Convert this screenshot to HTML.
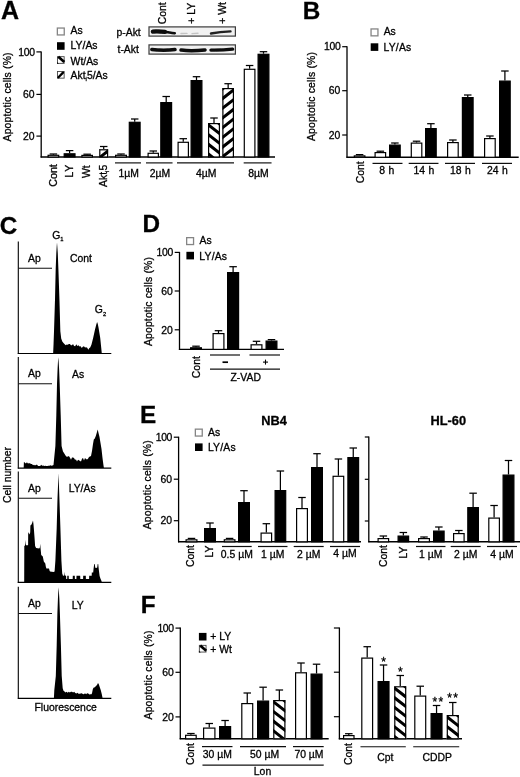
<!DOCTYPE html>
<html lang="en">
<head>
<meta charset="utf-8">
<title>Figure</title>
<style>
html,body{margin:0;padding:0;background:#fff;}
body{width:520px;height:777px;overflow:hidden;}
svg{display:block;}
svg text{font-family:"Liberation Sans",Arial,Helvetica,sans-serif;fill:#050505;stroke:#050505;stroke-width:0.3px;}
</style>
</head>
<body>
<svg width="520" height="777" viewBox="0 0 520 777">
<defs>
<filter id="bl" x="-20%" y="-100%" width="140%" height="300%"><feGaussianBlur stdDeviation="0.7"/></filter>
<filter id="soft"><feGaussianBlur stdDeviation="0.35"/></filter>
</defs>
<rect width="520" height="777" fill="#fff"/>
<g filter="url(#soft)">
<text x="1" y="19.2" font-size="25" font-weight="bold">A</text>
<line x1="41.2" y1="51.4" x2="41.2" y2="157.5" stroke="#000" stroke-width="1.3"/>
<line x1="36.4" y1="51.9" x2="41.2" y2="51.9" stroke="#000" stroke-width="1.2"/>
<text x="34.6" y="55.6" font-size="10.4" text-anchor="end" letter-spacing="-0.35">100</text>
<line x1="36.4" y1="94.4" x2="41.2" y2="94.4" stroke="#000" stroke-width="1.2"/>
<text x="34.6" y="98.1" font-size="10.4" text-anchor="end">60</text>
<line x1="36.4" y1="136.1" x2="41.2" y2="136.1" stroke="#000" stroke-width="1.2"/>
<text x="34.6" y="139.8" font-size="10.4" text-anchor="end">20</text>
<line x1="40.6" y1="157" x2="275" y2="157" stroke="#000" stroke-width="1.4"/>
<text x="10.8" y="96.9" font-size="10.4" text-anchor="middle" transform="rotate(-90 10.8 96.9)" letter-spacing="0.16">Apoptotic cells (%)</text>
<rect x="57.35" y="28.05" width="6.9" height="6.9" fill="#fff" stroke="#858585" stroke-width="1.3"/>
<text x="70.6" y="34" font-size="10.4">As</text>
<rect x="57" y="42.2" width="7.6" height="7.6" fill="#000"/>
<text x="70.6" y="49.3" font-size="10.4">LY/As</text>
<rect x="57.45" y="56.65" width="6.7" height="6.7" fill="#fff" stroke="#444" stroke-width="0.9"/>
<line x1="58.3" y1="56.7" x2="64.3" y2="62" stroke="#000" stroke-width="2.7"/>
<polygon points="57,63.8 57,62 58.8,63.8" fill="#000"/>
<text x="70.6" y="64.5" font-size="10.4">Wt/As</text>
<rect x="57.45" y="71.45" width="6.7" height="6.7" fill="#fff" stroke="#444" stroke-width="0.9"/>
<line x1="58.5" y1="77.3" x2="63" y2="72.6" stroke="#000" stroke-width="2.3" stroke-linecap="round"/>
<text x="70.6" y="79" font-size="10.4">Akt<tspan font-size="6" dy="2.2">i</tspan><tspan dy="-2.2">5/As</tspan></text>
<line x1="53.4" y1="154" x2="53.4" y2="154.7" stroke="#000" stroke-width="1.25"/>
<line x1="49.65" y1="154" x2="57.15" y2="154" stroke="#000" stroke-width="1.25"/>
<rect x="48.1" y="155.3" width="10.6" height="1.7" fill="#fff" stroke="#000" stroke-width="1.2"/>
<line x1="69.6" y1="150.6" x2="69.6" y2="153.2" stroke="#000" stroke-width="1.25"/>
<line x1="65.85" y1="150.6" x2="73.35" y2="150.6" stroke="#000" stroke-width="1.25"/>
<rect x="64.2" y="153.8" width="10.8" height="3.2" fill="#000" stroke="#000" stroke-width="1.2"/>
<line x1="87.15" y1="154.2" x2="87.15" y2="154.8" stroke="#000" stroke-width="1.25"/>
<line x1="83.4" y1="154.2" x2="90.9" y2="154.2" stroke="#000" stroke-width="1.25"/>
<rect x="81.9" y="155.4" width="10.5" height="1.6" fill="#fff" stroke="#000" stroke-width="1.2"/>
<line x1="103.7" y1="146.5" x2="103.7" y2="149.2" stroke="#000" stroke-width="1.25"/>
<line x1="99.95" y1="146.5" x2="107.45" y2="146.5" stroke="#000" stroke-width="1.25"/>
<clipPath id="c1"><rect x="99.2" y="149.2" width="9" height="7.8"/></clipPath>
<rect x="99.2" y="149.2" width="9" height="7.8" fill="#fff"/>
<path d="M108.2 129.5 L99.2 136.52 L99.2 140.32 L108.2 133.3ZM108.2 139.2 L99.2 146.22 L99.2 150.02 L108.2 143ZM108.2 148.9 L99.2 155.92 L99.2 159.72 L108.2 152.7ZM108.2 158.6 L99.2 165.62 L99.2 169.42 L108.2 162.4Z" fill="#000" clip-path="url(#c1)"/>
<rect x="99.8" y="149.8" width="7.8" height="7.2" fill="none" stroke="#000" stroke-width="1.2"/>
<line x1="121" y1="154" x2="121" y2="154.7" stroke="#000" stroke-width="1.25"/>
<line x1="117.25" y1="154" x2="124.75" y2="154" stroke="#000" stroke-width="1.25"/>
<rect x="115.6" y="155.3" width="10.8" height="1.7" fill="#fff" stroke="#000" stroke-width="1.2"/>
<line x1="134.7" y1="119" x2="134.7" y2="121.7" stroke="#000" stroke-width="1.25"/>
<line x1="130.95" y1="119" x2="138.45" y2="119" stroke="#000" stroke-width="1.25"/>
<rect x="129.3" y="122.3" width="10.8" height="34.7" fill="#000" stroke="#000" stroke-width="1.2"/>
<line x1="153.25" y1="151" x2="153.25" y2="152.7" stroke="#000" stroke-width="1.25"/>
<line x1="149.5" y1="151" x2="157" y2="151" stroke="#000" stroke-width="1.25"/>
<rect x="148.1" y="153.3" width="10.3" height="3.7" fill="#fff" stroke="#000" stroke-width="1.2"/>
<line x1="166.2" y1="96.5" x2="166.2" y2="102" stroke="#000" stroke-width="1.25"/>
<line x1="162.45" y1="96.5" x2="169.95" y2="96.5" stroke="#000" stroke-width="1.25"/>
<rect x="160.8" y="102.6" width="10.8" height="54.4" fill="#000" stroke="#000" stroke-width="1.2"/>
<line x1="183.25" y1="138.7" x2="183.25" y2="141.7" stroke="#000" stroke-width="1.25"/>
<line x1="179.5" y1="138.7" x2="187" y2="138.7" stroke="#000" stroke-width="1.25"/>
<rect x="178.1" y="142.3" width="10.3" height="14.7" fill="#fff" stroke="#000" stroke-width="1.2"/>
<line x1="196.5" y1="76.7" x2="196.5" y2="80" stroke="#000" stroke-width="1.25"/>
<line x1="192.75" y1="76.7" x2="200.25" y2="76.7" stroke="#000" stroke-width="1.25"/>
<rect x="191.1" y="80.6" width="10.8" height="76.4" fill="#000" stroke="#000" stroke-width="1.2"/>
<line x1="214" y1="118" x2="214" y2="123" stroke="#000" stroke-width="1.25"/>
<line x1="210.25" y1="118" x2="217.75" y2="118" stroke="#000" stroke-width="1.25"/>
<clipPath id="c2"><rect x="208" y="123" width="12" height="34"/></clipPath>
<rect x="208" y="123" width="12" height="34" fill="#fff"/>
<path d="M208 103.3 L220 112.66 L220 116.46 L208 107.1ZM208 113 L220 122.36 L220 126.16 L208 116.8ZM208 122.7 L220 132.06 L220 135.86 L208 126.5ZM208 132.4 L220 141.76 L220 145.56 L208 136.2ZM208 142.1 L220 151.46 L220 155.26 L208 145.9ZM208 151.8 L220 161.16 L220 164.96 L208 155.6Z" fill="#000" clip-path="url(#c2)"/>
<rect x="208.6" y="123.6" width="10.8" height="33.4" fill="none" stroke="#000" stroke-width="1.2"/>
<line x1="228.15" y1="83.7" x2="228.15" y2="88" stroke="#000" stroke-width="1.25"/>
<line x1="224.4" y1="83.7" x2="231.9" y2="83.7" stroke="#000" stroke-width="1.25"/>
<clipPath id="c3"><rect x="222.3" y="88" width="11.7" height="69"/></clipPath>
<rect x="222.3" y="88" width="11.7" height="69" fill="#fff"/>
<path d="M234 68.3 L222.3 77.43 L222.3 81.23 L234 72.1ZM234 78 L222.3 87.13 L222.3 90.93 L234 81.8ZM234 87.7 L222.3 96.83 L222.3 100.63 L234 91.5ZM234 97.4 L222.3 106.53 L222.3 110.33 L234 101.2ZM234 107.1 L222.3 116.23 L222.3 120.03 L234 110.9ZM234 116.8 L222.3 125.93 L222.3 129.73 L234 120.6ZM234 126.5 L222.3 135.63 L222.3 139.43 L234 130.3ZM234 136.2 L222.3 145.33 L222.3 149.13 L234 140ZM234 145.9 L222.3 155.03 L222.3 158.83 L234 149.7ZM234 155.6 L222.3 164.73 L222.3 168.53 L234 159.4Z" fill="#000" clip-path="url(#c3)"/>
<rect x="222.9" y="88.6" width="10.5" height="68.4" fill="none" stroke="#000" stroke-width="1.2"/>
<line x1="249.6" y1="65.5" x2="249.6" y2="68.7" stroke="#000" stroke-width="1.25"/>
<line x1="245.85" y1="65.5" x2="253.35" y2="65.5" stroke="#000" stroke-width="1.25"/>
<rect x="244.3" y="69.3" width="10.6" height="87.7" fill="#fff" stroke="#000" stroke-width="1.2"/>
<line x1="263.5" y1="51.7" x2="263.5" y2="53.7" stroke="#000" stroke-width="1.25"/>
<line x1="259.75" y1="51.7" x2="267.25" y2="51.7" stroke="#000" stroke-width="1.25"/>
<rect x="258.1" y="54.3" width="10.8" height="102.7" fill="#000" stroke="#000" stroke-width="1.2"/>
<line x1="115" y1="162.9" x2="141" y2="162.9" stroke="#111" stroke-width="1.2"/>
<text x="128.8" y="176.8" font-size="10.4" text-anchor="middle">1µM</text>
<line x1="146" y1="162.9" x2="172.5" y2="162.9" stroke="#111" stroke-width="1.2"/>
<text x="160.05" y="176.8" font-size="10.4" text-anchor="middle">2µM</text>
<line x1="177" y1="162.9" x2="234" y2="162.9" stroke="#111" stroke-width="1.2"/>
<text x="206.3" y="176.8" font-size="10.4" text-anchor="middle">4µM</text>
<line x1="243.7" y1="162.9" x2="271.5" y2="162.9" stroke="#111" stroke-width="1.2"/>
<text x="258.4" y="176.8" font-size="10.4" text-anchor="middle">8µM</text>
<text x="57.3" y="164.2" font-size="10.7" text-anchor="end" transform="rotate(-90 57.3 164.2)">Cont</text>
<text x="73" y="164.2" font-size="10.4" text-anchor="end" transform="rotate(-90 73 164.2)" letter-spacing="0.7">LY</text>
<text x="90.5" y="165.4" font-size="10.4" text-anchor="end" transform="rotate(-90 90.5 165.4)">Wt</text>
<text x="106.8" y="164.8" font-size="10.4" text-anchor="end" transform="rotate(-90 106.8 164.8)">Akt<tspan font-size="6" dy="2.2">i</tspan><tspan dy="-2.2">5</tspan></text>
<text x="116.5" y="35.5" font-size="10.4">p-Akt</text>
<text x="117.5" y="53.1" font-size="10.4">t-Akt</text>
<rect x="149" y="26.9" width="86.4" height="9.2" fill="#f1f1f1" stroke="#3a3a3a" stroke-width="1.2"/>
<rect x="149" y="44.9" width="86.4" height="9.2" fill="#f1f1f1" stroke="#3a3a3a" stroke-width="1.2"/>
<g filter="url(#bl)">
<path d="M152.8 31.6 Q158 31.2 165 31.9" stroke="#0a0a0a" stroke-width="4.2" fill="none" stroke-linecap="round"/>
<path d="M153 31.8 Q163 31.4 168 32.2 T174.8 33.2" stroke="#0a0a0a" stroke-width="2.6" fill="none" stroke-linecap="round"/>
<path d="M181 33.5 L187 33.4 M192 33.6 L198 33.2" stroke="#c4c4c4" stroke-width="1.4" fill="none" stroke-linecap="round"/>
<path d="M211 33.5 Q220 32 230.5 31.4" stroke="#222" stroke-width="2.4" fill="none" stroke-linecap="round"/>
<path d="M151.8 49.5 Q163 50.9 175 49.6" stroke="#0a0a0a" stroke-width="3.5" fill="none" stroke-linecap="round"/>
<path d="M181 50.1 Q192 51.3 205 49.9" stroke="#0a0a0a" stroke-width="3.5" fill="none" stroke-linecap="round"/>
<path d="M211 50.1 Q222 50.3 232.6 49.1" stroke="#0a0a0a" stroke-width="3.4" fill="none" stroke-linecap="round"/>
</g>
<text x="166.2" y="24.3" font-size="10.4" transform="rotate(-90 166.2 24.3)">Cont</text>
<text x="194.7" y="23.8" font-size="10.4" transform="rotate(-90 194.7 23.8)">+ LY</text>
<text x="226.2" y="23.8" font-size="10.4" transform="rotate(-90 226.2 23.8)">+ Wt</text>
<text x="302.8" y="19.3" font-size="24.3" font-weight="bold">B</text>
<line x1="347" y1="46.2" x2="347" y2="157.8" stroke="#000" stroke-width="1.3"/>
<line x1="342.2" y1="46.7" x2="347" y2="46.7" stroke="#000" stroke-width="1.2"/>
<text x="340.4" y="50.4" font-size="10.4" text-anchor="end" letter-spacing="-0.35">100</text>
<line x1="342.2" y1="90.7" x2="347" y2="90.7" stroke="#000" stroke-width="1.2"/>
<text x="340.4" y="94.4" font-size="10.4" text-anchor="end">60</text>
<line x1="342.2" y1="135" x2="347" y2="135" stroke="#000" stroke-width="1.2"/>
<text x="340.4" y="138.7" font-size="10.4" text-anchor="end">20</text>
<line x1="346.4" y1="157.3" x2="518.7" y2="157.3" stroke="#000" stroke-width="1.4"/>
<text x="314.8" y="96.5" font-size="10.4" text-anchor="middle" transform="rotate(-90 314.8 96.5)" letter-spacing="0.16">Apoptotic cells (%)</text>
<rect x="371.05" y="28.95" width="6.9" height="6.9" fill="#fff" stroke="#858585" stroke-width="1.3"/>
<text x="383.7" y="35.4" font-size="10.4">As</text>
<rect x="370.7" y="43.3" width="7.6" height="7.6" fill="#000"/>
<text x="383.5" y="51" font-size="10.4" letter-spacing="0.2">LY/As</text>
<line x1="359.6" y1="154.6" x2="359.6" y2="155.3" stroke="#000" stroke-width="1.25"/>
<line x1="355.85" y1="154.6" x2="363.35" y2="154.6" stroke="#000" stroke-width="1.25"/>
<rect x="354.3" y="155.9" width="10.6" height="1.4" fill="#fff" stroke="#000" stroke-width="1.2"/>
<line x1="380.35" y1="151.2" x2="380.35" y2="152" stroke="#000" stroke-width="1.25"/>
<line x1="376.6" y1="151.2" x2="384.1" y2="151.2" stroke="#000" stroke-width="1.25"/>
<rect x="375.1" y="152.6" width="10.5" height="4.7" fill="#fff" stroke="#000" stroke-width="1.2"/>
<line x1="394.9" y1="143" x2="394.9" y2="144.5" stroke="#000" stroke-width="1.25"/>
<line x1="391.15" y1="143" x2="398.65" y2="143" stroke="#000" stroke-width="1.25"/>
<rect x="389.6" y="145.1" width="10.6" height="12.2" fill="#000" stroke="#000" stroke-width="1.2"/>
<line x1="416.55" y1="141.2" x2="416.55" y2="142.5" stroke="#000" stroke-width="1.25"/>
<line x1="412.8" y1="141.2" x2="420.3" y2="141.2" stroke="#000" stroke-width="1.25"/>
<rect x="411.3" y="143.1" width="10.5" height="14.2" fill="#fff" stroke="#000" stroke-width="1.2"/>
<line x1="430.9" y1="123.7" x2="430.9" y2="128" stroke="#000" stroke-width="1.25"/>
<line x1="427.15" y1="123.7" x2="434.65" y2="123.7" stroke="#000" stroke-width="1.25"/>
<rect x="425.6" y="128.6" width="10.6" height="28.7" fill="#000" stroke="#000" stroke-width="1.2"/>
<line x1="452.9" y1="140" x2="452.9" y2="142" stroke="#000" stroke-width="1.25"/>
<line x1="449.15" y1="140" x2="456.65" y2="140" stroke="#000" stroke-width="1.25"/>
<rect x="447.6" y="142.6" width="10.6" height="14.7" fill="#fff" stroke="#000" stroke-width="1.2"/>
<line x1="467.75" y1="95" x2="467.75" y2="97" stroke="#000" stroke-width="1.25"/>
<line x1="464" y1="95" x2="471.5" y2="95" stroke="#000" stroke-width="1.25"/>
<rect x="462.4" y="97.6" width="10.7" height="59.7" fill="#000" stroke="#000" stroke-width="1.2"/>
<line x1="489.9" y1="136" x2="489.9" y2="138" stroke="#000" stroke-width="1.25"/>
<line x1="486.15" y1="136" x2="493.65" y2="136" stroke="#000" stroke-width="1.25"/>
<rect x="484.6" y="138.6" width="10.6" height="18.7" fill="#fff" stroke="#000" stroke-width="1.2"/>
<line x1="504.9" y1="71" x2="504.9" y2="80.5" stroke="#000" stroke-width="1.25"/>
<line x1="501.15" y1="71" x2="508.65" y2="71" stroke="#000" stroke-width="1.25"/>
<rect x="499.6" y="81.1" width="10.6" height="76.2" fill="#000" stroke="#000" stroke-width="1.2"/>
<line x1="372.5" y1="163.4" x2="402.5" y2="163.4" stroke="#111" stroke-width="1.2"/>
<text x="386.8" y="173.7" font-size="10.4" text-anchor="middle" word-spacing="0.6">8 h</text>
<line x1="408.7" y1="163.4" x2="438.5" y2="163.4" stroke="#111" stroke-width="1.2"/>
<text x="424" y="173.7" font-size="10.4" text-anchor="middle" word-spacing="0.6">14 h</text>
<line x1="445" y1="163.4" x2="475" y2="163.4" stroke="#111" stroke-width="1.2"/>
<text x="460.4" y="173.7" font-size="10.4" text-anchor="middle" word-spacing="0.6">18 h</text>
<line x1="482" y1="163.4" x2="512" y2="163.4" stroke="#111" stroke-width="1.2"/>
<text x="497.4" y="173.7" font-size="10.4" text-anchor="middle" word-spacing="0.6">24 h</text>
<text x="364.5" y="161.3" font-size="10.4" text-anchor="end" transform="rotate(-90 364.5 161.3)">Cont</text>
<text x="-0.3" y="234.3" font-size="24.3" font-weight="bold">C</text>
<text x="11.2" y="475" font-size="10.4" text-anchor="middle" transform="rotate(-90 11.2 475)">Cell number</text>
<text x="65.7" y="710.5" font-size="10.4" text-anchor="middle">Fluorescence</text>
<line x1="18.3" y1="241.5" x2="18.3" y2="354" stroke="#000" stroke-width="1.1"/>
<line x1="17.8" y1="353.5" x2="111.3" y2="353.5" stroke="#000" stroke-width="1.2"/>
<line x1="18.3" y1="268.2" x2="52" y2="268.2" stroke="#111" stroke-width="1.1"/>
<text x="28" y="261.7" font-size="10.4">Ap</text>
<text x="70" y="262.3" font-size="10.4">Cont</text>
<path d="M53.13 353.5 L53.13 353.5 L53.57 343.51 L54.01 331.3 L54.98 300.22 L55.68 269.14 L56.3 253.6 L56.74 245.83 L57 242.5 L57.26 245.83 L57.79 253.6 L58.41 269.14 L59.46 300.22 L60.34 331.3 L61.2 338.5 L62.3 341.5 L63.5 343 L64.7 344.3 L65.7 345.33 L66.75 344.48 L67.8 344.78 L68.85 344.1 L69.9 343.93 L70.95 345.16 L72 345.17 L73 343.89 L74.09 345.88 L75.19 346.2 L76.28 344.17 L77.37 346 L78.47 345.16 L79.56 346.49 L80.65 346.26 L81.75 347.97 L82.84 346.78 L83.93 346.33 L85.03 347.62 L86.12 347.22 L87.21 347.68 L88.31 349.75 L89.4 347.93 L90.2 347.5 L91.5 344.5 L93.2 337.8 L95 329.5 L96.3 324.5 L97.1 322.1 L97.8 324 L98.5 327.5 L100.2 337.8 L101 345.5 L101.8 353.5 L101.8 353.5 Z" fill="#000"/>
<text x="52.2" y="238.5" font-size="10.4">G<tspan font-size="5.8" dy="2.3">1</tspan></text>
<text x="94.8" y="313.4" font-size="10.4">G<tspan font-size="5.8" dy="2.3">2</tspan></text>
<line x1="18.3" y1="357" x2="18.3" y2="468.6" stroke="#000" stroke-width="1.1"/>
<line x1="17.8" y1="468.1" x2="111.3" y2="468.1" stroke="#000" stroke-width="1.2"/>
<line x1="18.3" y1="383.7" x2="52" y2="383.7" stroke="#111" stroke-width="1.1"/>
<text x="28" y="377.2" font-size="10.4">Ap</text>
<text x="72" y="377.8" font-size="10.4">As</text>
<path d="M23.7 468.1 L23.7 468.1 L23.9 461.72 L24.91 462.65 L25.92 463.55 L26.93 462.24 L27.94 463.38 L28.96 463.24 L29.97 463.28 L30.98 463.96 L31.99 463.9 L33 465.31 L34 464.82 L35.03 465.43 L36.06 464.69 L37.08 464.83 L38.11 466.12 L39.14 466.1 L40.17 466.02 L41.19 464.87 L42.22 465.76 L43.25 465.5 L44.28 466.06 L45.31 465.78 L46.33 466.02 L47.36 466.12 L48.39 465.79 L49.42 465.83 L50.44 465.36 L51.47 465.76 L52.5 465.41 L53.5 465.1 L55.38 445.94 L56.32 414.92 L57.01 383.89 L57.61 368.38 L58.04 360.62 L58.3 357.3 L58.56 360.62 L59.07 368.38 L59.68 383.89 L60.71 414.92 L61.57 445.94 L63 451.6 L64 453.1 L65.5 455.6 L67 457.1 L68 456.32 L69 456.16 L70 457.64 L71 459.8 L72 457.62 L73 457.58 L74 458.12 L75 459.66 L76 459.47 L77 461.61 L78 459.71 L79 460.36 L80 461.02 L81 461.45 L82 458.65 L83 457.94 L84 460.55 L85 458 L86 458.98 L87 459.54 L88 458.81 L89 457.01 L90 456.41 L91 456.1 L92 451.1 L93 444.1 L93.8 439.6 L94.8 438.6 L95.8 436.1 L96.7 433.1 L97.7 429.6 L98.5 433.1 L99.5 437.1 L100.5 443.1 L101.5 449.1 L102.5 458.1 L103.3 464.1 L103.9 468.1 L103.9 468.1 Z" fill="#000"/>
<line x1="18.3" y1="471.5" x2="18.3" y2="582.9" stroke="#000" stroke-width="1.1"/>
<line x1="17.8" y1="582.4" x2="111.3" y2="582.4" stroke="#000" stroke-width="1.2"/>
<line x1="18.3" y1="498.2" x2="52" y2="498.2" stroke="#111" stroke-width="1.1"/>
<text x="28" y="491.7" font-size="10.4">Ap</text>
<text x="68.7" y="492.3" font-size="10.4">LY/As</text>
<path d="M24.2 582.4 L24.2 582.4 L24.3 545.9 L25 545.4 L25.3 539.7 L25.7 544.4 L26.8 545.4 L28.1 544.9 L28.2 532 L29.4 534.4 L30.2 532.4 L30.4 525.4 L31.5 524.4 L32.3 522.4 L33 520.4 L33.5 524.4 L34 530.4 L34.6 538.4 L35.1 545.9 L36.1 547.9 L39.2 548.4 L39.9 547.4 L40.2 543.8 L40.6 548.4 L41.2 555.1 L42.8 556.4 L43.2 558.4 L43.8 561.4 L45.3 563.4 L45.8 566.4 L46.4 568.5 L49 568.5 L49.5 570.4 L50 571.6 L53.6 572.1 L54.6 571.4 L55.4 560.4 L56.7 527.9 L57.5 498.4 L58.15 482.4 L58.5 473.2 L58.85 482.4 L59.4 498.4 L60.4 527.9 L61.4 560.4 L62.2 573.4 L62.4 573.9 L63 575.8 L63.3 575.8 L64.1 575.6 L64.4 571.7 L64.8 575.6 L66.1 575.8 L66.2 578.9 L67.2 578.9 L67.3 575.8 L68.7 575.8 L68.8 578.9 L72.7 578.9 L72.8 575.8 L74.8 575.8 L74.9 578.9 L76.4 578.9 L76.5 575.8 L80.2 575.8 L80.3 578.9 L83.1 578.9 L83.2 575.8 L85.8 575.8 L85.9 578.9 L89.1 578.9 L89.2 575.8 L91.7 575.8 L91.8 572.6 L93.2 572.6 L93.6 568.4 L94.2 563.9 L94.7 563.9 L95.3 567.8 L96.2 568 L97.2 567.6 L97.7 563.9 L98.2 563.9 L98.8 569.4 L99.6 575.9 L100.6 578.9 L101.4 580.7 L101.9 582.4 L101.9 582.4 Z" fill="#000"/>
<line x1="18.3" y1="586.8" x2="18.3" y2="698.8" stroke="#000" stroke-width="1.1"/>
<line x1="17.8" y1="698.3" x2="111.3" y2="698.3" stroke="#000" stroke-width="1.2"/>
<line x1="18.3" y1="613.5" x2="52" y2="613.5" stroke="#111" stroke-width="1.1"/>
<text x="28" y="607" font-size="10.4">Ap</text>
<text x="71.7" y="609.4" font-size="10.4">LY</text>
<path d="M53.9 698.3 L53.9 698.3 L54.3 690.3 L55.81 676.1 L56.71 645.02 L57.37 613.94 L57.94 598.4 L58.35 590.63 L58.6 587.3 L58.85 590.63 L59.34 598.4 L59.91 613.94 L60.9 645.02 L61.72 676.1 L62.7 688.3 L63.5 690.8 L64.5 691.4 L65.5 692.53 L66.58 691.73 L67.67 692.74 L68.75 691.78 L69.83 692.5 L70.92 691.73 L72 691.68 L73.08 692.55 L74.17 691.87 L75.25 693.08 L76.33 693.56 L77.42 692.83 L78.5 693.85 L79.58 693.69 L80.67 693.46 L81.75 693.25 L82.83 694.08 L83.92 694.37 L85 693.16 L86.08 694.16 L87.17 693.23 L88.25 693.44 L89.33 694.38 L90.42 694.36 L91.5 694.37 L92 693.3 L92.8 689.3 L93.5 687.7 L94.8 687.3 L96 686.1 L97 685.1 L98 682.9 L98.8 684.3 L99.8 687.3 L100.8 690.3 L101.8 694.3 L102.6 698.3 L102.6 698.3 Z" fill="#000"/>
<text x="142.5" y="232.3" font-size="24.3" font-weight="bold">D</text>
<line x1="179.5" y1="251.9" x2="179.5" y2="349.9" stroke="#000" stroke-width="1.3"/>
<line x1="174.7" y1="252.4" x2="179.5" y2="252.4" stroke="#000" stroke-width="1.2"/>
<text x="172.9" y="256.1" font-size="10.4" text-anchor="end" letter-spacing="-0.35">100</text>
<line x1="174.7" y1="291" x2="179.5" y2="291" stroke="#000" stroke-width="1.2"/>
<text x="172.9" y="294.7" font-size="10.4" text-anchor="end">60</text>
<line x1="174.7" y1="329.8" x2="179.5" y2="329.8" stroke="#000" stroke-width="1.2"/>
<text x="172.9" y="333.5" font-size="10.4" text-anchor="end">20</text>
<line x1="178.9" y1="349.4" x2="284" y2="349.4" stroke="#000" stroke-width="1.4"/>
<text x="152.4" y="301.5" font-size="10.4" text-anchor="middle" transform="rotate(-90 152.4 301.5)" letter-spacing="0.16">Apoptotic cells (%)</text>
<rect x="186.65" y="237.65" width="6.9" height="6.9" fill="#fff" stroke="#858585" stroke-width="1.3"/>
<text x="199.5" y="244.2" font-size="10.4">As</text>
<rect x="186.4" y="251.8" width="7.6" height="7.6" fill="#000"/>
<text x="199.3" y="260.4" font-size="10.4" letter-spacing="0.2">LY/As</text>
<line x1="196" y1="346.2" x2="196" y2="347.2" stroke="#000" stroke-width="1.25"/>
<line x1="192.25" y1="346.2" x2="199.75" y2="346.2" stroke="#000" stroke-width="1.25"/>
<rect x="190.6" y="347.8" width="10.8" height="1.6" fill="#000" stroke="#000" stroke-width="1.2"/>
<line x1="218.5" y1="330.7" x2="218.5" y2="333" stroke="#000" stroke-width="1.25"/>
<line x1="214.75" y1="330.7" x2="222.25" y2="330.7" stroke="#000" stroke-width="1.25"/>
<rect x="213.1" y="333.6" width="10.8" height="15.8" fill="#fff" stroke="#000" stroke-width="1.2"/>
<line x1="233.1" y1="266.7" x2="233.1" y2="272" stroke="#000" stroke-width="1.25"/>
<line x1="229.35" y1="266.7" x2="236.85" y2="266.7" stroke="#000" stroke-width="1.25"/>
<rect x="227.6" y="272.6" width="11" height="76.8" fill="#000" stroke="#000" stroke-width="1.2"/>
<line x1="256.5" y1="341.3" x2="256.5" y2="344.2" stroke="#000" stroke-width="1.25"/>
<line x1="252.75" y1="341.3" x2="260.25" y2="341.3" stroke="#000" stroke-width="1.25"/>
<rect x="251.1" y="344.8" width="10.8" height="4.6" fill="#fff" stroke="#000" stroke-width="1.2"/>
<line x1="271.5" y1="339.6" x2="271.5" y2="340.5" stroke="#000" stroke-width="1.25"/>
<line x1="267.75" y1="339.6" x2="275.25" y2="339.6" stroke="#000" stroke-width="1.25"/>
<rect x="266.1" y="341.1" width="10.8" height="8.3" fill="#000" stroke="#000" stroke-width="1.2"/>
<line x1="210" y1="355" x2="240" y2="355" stroke="#111" stroke-width="1.2"/>
<line x1="249.5" y1="355" x2="280" y2="355" stroke="#111" stroke-width="1.2"/>
<line x1="210" y1="369.1" x2="280" y2="369.1" stroke="#111" stroke-width="1.2"/>
<line x1="222.5" y1="362.2" x2="228" y2="362.2" stroke="#000" stroke-width="1.7"/>
<line x1="263" y1="362.1" x2="268" y2="362.1" stroke="#000" stroke-width="1.1"/>
<line x1="265.5" y1="359.6" x2="265.5" y2="364.6" stroke="#000" stroke-width="1.1"/>
<text x="245.7" y="380.6" font-size="10.4" text-anchor="middle">Z-VAD</text>
<text x="200" y="356.2" font-size="10.4" text-anchor="end" transform="rotate(-90 200 356.2)">Cont</text>
<text x="140" y="422.8" font-size="24.3" font-weight="bold">E</text>
<line x1="178.6" y1="436.7" x2="178.6" y2="542.3" stroke="#000" stroke-width="1.3"/>
<line x1="173.8" y1="437.2" x2="178.6" y2="437.2" stroke="#000" stroke-width="1.2"/>
<text x="172" y="440.9" font-size="10.4" text-anchor="end" letter-spacing="-0.35">100</text>
<line x1="173.8" y1="479.2" x2="178.6" y2="479.2" stroke="#000" stroke-width="1.2"/>
<text x="172" y="482.9" font-size="10.4" text-anchor="end">60</text>
<line x1="173.8" y1="520.7" x2="178.6" y2="520.7" stroke="#000" stroke-width="1.2"/>
<text x="172" y="524.4" font-size="10.4" text-anchor="end">20</text>
<line x1="178" y1="541.8" x2="361" y2="541.8" stroke="#000" stroke-width="1.4"/>
<text x="150.7" y="484.7" font-size="10.4" text-anchor="middle" transform="rotate(-90 150.7 484.7)" letter-spacing="0.16">Apoptotic cells (%)</text>
<rect x="195.35" y="429.15" width="6.9" height="6.9" fill="#fff" stroke="#858585" stroke-width="1.3"/>
<text x="208" y="435.7" font-size="10.4">As</text>
<rect x="195" y="443.4" width="7.6" height="7.6" fill="#000"/>
<text x="207.9" y="451.4" font-size="10.4" letter-spacing="0.2">LY/As</text>
<text x="274" y="424.5" font-size="12.8" text-anchor="middle" font-weight="bold">NB4</text>
<text x="448.3" y="424.5" font-size="12.8" text-anchor="middle" font-weight="bold">HL-60</text>
<line x1="191.5" y1="538.4" x2="191.5" y2="539.2" stroke="#000" stroke-width="1.25"/>
<line x1="187.75" y1="538.4" x2="195.25" y2="538.4" stroke="#000" stroke-width="1.25"/>
<rect x="186.1" y="539.8" width="10.8" height="2" fill="#fff" stroke="#000" stroke-width="1.2"/>
<line x1="210" y1="523" x2="210" y2="528" stroke="#000" stroke-width="1.25"/>
<line x1="206.25" y1="523" x2="213.75" y2="523" stroke="#000" stroke-width="1.25"/>
<rect x="204.6" y="528.6" width="10.8" height="13.2" fill="#000" stroke="#000" stroke-width="1.2"/>
<line x1="229.6" y1="538.4" x2="229.6" y2="539.2" stroke="#000" stroke-width="1.25"/>
<line x1="225.85" y1="538.4" x2="233.35" y2="538.4" stroke="#000" stroke-width="1.25"/>
<rect x="224.3" y="539.8" width="10.6" height="2" fill="#fff" stroke="#000" stroke-width="1.2"/>
<line x1="244" y1="490.7" x2="244" y2="502" stroke="#000" stroke-width="1.25"/>
<line x1="240.25" y1="490.7" x2="247.75" y2="490.7" stroke="#000" stroke-width="1.25"/>
<rect x="238.6" y="502.6" width="10.8" height="39.2" fill="#000" stroke="#000" stroke-width="1.2"/>
<line x1="266.35" y1="523.7" x2="266.35" y2="532.5" stroke="#000" stroke-width="1.25"/>
<line x1="262.6" y1="523.7" x2="270.1" y2="523.7" stroke="#000" stroke-width="1.25"/>
<rect x="261.1" y="533.1" width="10.5" height="8.7" fill="#fff" stroke="#000" stroke-width="1.2"/>
<line x1="280.4" y1="471" x2="280.4" y2="490" stroke="#000" stroke-width="1.25"/>
<line x1="276.65" y1="471" x2="284.15" y2="471" stroke="#000" stroke-width="1.25"/>
<rect x="275.1" y="490.6" width="10.6" height="51.2" fill="#000" stroke="#000" stroke-width="1.2"/>
<line x1="302" y1="497.5" x2="302" y2="508" stroke="#000" stroke-width="1.25"/>
<line x1="298.25" y1="497.5" x2="305.75" y2="497.5" stroke="#000" stroke-width="1.25"/>
<rect x="296.6" y="508.6" width="10.8" height="33.2" fill="#fff" stroke="#000" stroke-width="1.2"/>
<line x1="317" y1="453.7" x2="317" y2="467" stroke="#000" stroke-width="1.25"/>
<line x1="313.25" y1="453.7" x2="320.75" y2="453.7" stroke="#000" stroke-width="1.25"/>
<rect x="311.6" y="467.6" width="10.8" height="74.2" fill="#000" stroke="#000" stroke-width="1.2"/>
<line x1="338.4" y1="459" x2="338.4" y2="475.7" stroke="#000" stroke-width="1.25"/>
<line x1="334.65" y1="459" x2="342.15" y2="459" stroke="#000" stroke-width="1.25"/>
<rect x="333.1" y="476.3" width="10.6" height="65.5" fill="#fff" stroke="#000" stroke-width="1.2"/>
<line x1="353.25" y1="448" x2="353.25" y2="457" stroke="#000" stroke-width="1.25"/>
<line x1="349.5" y1="448" x2="357" y2="448" stroke="#000" stroke-width="1.25"/>
<rect x="347.9" y="457.6" width="10.7" height="84.2" fill="#000" stroke="#000" stroke-width="1.2"/>
<line x1="222" y1="546.5" x2="251.7" y2="546.5" stroke="#111" stroke-width="1.2"/>
<text x="236.85" y="557.9" font-size="10.4" text-anchor="middle">0.5 µM</text>
<line x1="258" y1="546.5" x2="287.5" y2="546.5" stroke="#111" stroke-width="1.2"/>
<text x="272.75" y="557.9" font-size="10.4" text-anchor="middle">1 µM</text>
<line x1="293.7" y1="546.5" x2="323.7" y2="546.5" stroke="#111" stroke-width="1.2"/>
<text x="308.7" y="557.9" font-size="10.4" text-anchor="middle">2 µM</text>
<line x1="330" y1="546.5" x2="360" y2="546.5" stroke="#111" stroke-width="1.2"/>
<text x="345" y="557.1" font-size="10.4" text-anchor="middle">4 µM</text>
<text x="194.4" y="545" font-size="10.4" text-anchor="end" transform="rotate(-90 194.4 545)">Cont</text>
<text x="213.2" y="545.5" font-size="10.4" text-anchor="end" transform="rotate(-90 213.2 545.5)">LY</text>
<line x1="368.8" y1="436.5" x2="368.8" y2="542.3" stroke="#000" stroke-width="1.3"/>
<line x1="364.8" y1="437" x2="368.8" y2="437" stroke="#000" stroke-width="1.2"/>
<line x1="364.8" y1="479.3" x2="368.8" y2="479.3" stroke="#000" stroke-width="1.2"/>
<line x1="364.8" y1="521" x2="368.8" y2="521" stroke="#000" stroke-width="1.2"/>
<line x1="368.2" y1="541.8" x2="520" y2="541.8" stroke="#000" stroke-width="1.4"/>
<line x1="383.35" y1="536" x2="383.35" y2="538" stroke="#000" stroke-width="1.25"/>
<line x1="379.6" y1="536" x2="387.1" y2="536" stroke="#000" stroke-width="1.25"/>
<rect x="378.1" y="538.6" width="10.5" height="3.2" fill="#fff" stroke="#000" stroke-width="1.2"/>
<line x1="403.35" y1="532.5" x2="403.35" y2="535.5" stroke="#000" stroke-width="1.25"/>
<line x1="399.6" y1="532.5" x2="407.1" y2="532.5" stroke="#000" stroke-width="1.25"/>
<rect x="398.1" y="536.1" width="10.5" height="5.7" fill="#000" stroke="#000" stroke-width="1.2"/>
<line x1="424" y1="537" x2="424" y2="538" stroke="#000" stroke-width="1.25"/>
<line x1="420.25" y1="537" x2="427.75" y2="537" stroke="#000" stroke-width="1.25"/>
<rect x="418.6" y="538.6" width="10.8" height="3.2" fill="#fff" stroke="#000" stroke-width="1.2"/>
<line x1="438.85" y1="527" x2="438.85" y2="530.5" stroke="#000" stroke-width="1.25"/>
<line x1="435.1" y1="527" x2="442.6" y2="527" stroke="#000" stroke-width="1.25"/>
<rect x="433.6" y="531.1" width="10.5" height="10.7" fill="#000" stroke="#000" stroke-width="1.2"/>
<line x1="458.85" y1="530.5" x2="458.85" y2="533" stroke="#000" stroke-width="1.25"/>
<line x1="455.1" y1="530.5" x2="462.6" y2="530.5" stroke="#000" stroke-width="1.25"/>
<rect x="453.6" y="533.6" width="10.5" height="8.2" fill="#fff" stroke="#000" stroke-width="1.2"/>
<line x1="473.1" y1="493.2" x2="473.1" y2="507" stroke="#000" stroke-width="1.25"/>
<line x1="469.35" y1="493.2" x2="476.85" y2="493.2" stroke="#000" stroke-width="1.25"/>
<rect x="467.8" y="507.6" width="10.6" height="34.2" fill="#000" stroke="#000" stroke-width="1.2"/>
<line x1="494.1" y1="505.5" x2="494.1" y2="517.5" stroke="#000" stroke-width="1.25"/>
<line x1="490.35" y1="505.5" x2="497.85" y2="505.5" stroke="#000" stroke-width="1.25"/>
<rect x="488.8" y="518.1" width="10.6" height="23.7" fill="#fff" stroke="#000" stroke-width="1.2"/>
<line x1="508.5" y1="460.5" x2="508.5" y2="474.5" stroke="#000" stroke-width="1.25"/>
<line x1="504.75" y1="460.5" x2="512.25" y2="460.5" stroke="#000" stroke-width="1.25"/>
<rect x="503.1" y="475.1" width="10.8" height="66.7" fill="#000" stroke="#000" stroke-width="1.2"/>
<line x1="416" y1="546.5" x2="445.5" y2="546.5" stroke="#111" stroke-width="1.2"/>
<text x="430.75" y="557.8" font-size="10.4" text-anchor="middle">1 µM</text>
<line x1="450.7" y1="546.5" x2="480.7" y2="546.5" stroke="#111" stroke-width="1.2"/>
<text x="465.7" y="557.8" font-size="10.4" text-anchor="middle">2 µM</text>
<line x1="487" y1="546.5" x2="517" y2="546.5" stroke="#111" stroke-width="1.2"/>
<text x="502" y="557.8" font-size="10.4" text-anchor="middle">4 µM</text>
<text x="387.4" y="545" font-size="10.4" text-anchor="end" transform="rotate(-90 387.4 545)">Cont</text>
<text x="407.4" y="546.5" font-size="10.4" text-anchor="end" transform="rotate(-90 407.4 546.5)">LY</text>
<text x="140.7" y="613.2" font-size="24.3" font-weight="bold">F</text>
<line x1="180.3" y1="627.6" x2="180.3" y2="739.3" stroke="#000" stroke-width="1.3"/>
<line x1="175.5" y1="628.1" x2="180.3" y2="628.1" stroke="#000" stroke-width="1.2"/>
<text x="173.7" y="631.8" font-size="10.4" text-anchor="end" letter-spacing="-0.35">100</text>
<line x1="175.5" y1="672.3" x2="180.3" y2="672.3" stroke="#000" stroke-width="1.2"/>
<text x="173.7" y="676" font-size="10.4" text-anchor="end">60</text>
<line x1="175.5" y1="716.9" x2="180.3" y2="716.9" stroke="#000" stroke-width="1.2"/>
<text x="173.7" y="720.6" font-size="10.4" text-anchor="end">20</text>
<line x1="179.7" y1="738.8" x2="328.7" y2="738.8" stroke="#000" stroke-width="1.4"/>
<text x="152" y="674.9" font-size="10.4" text-anchor="middle" transform="rotate(-90 152 674.9)" letter-spacing="0.16">Apoptotic cells (%)</text>
<rect x="198.9" y="632.9" width="7.6" height="7.6" fill="#000"/>
<text x="210.2" y="640.3" font-size="10.4">+ LY</text>
<rect x="199.35" y="645.35" width="6.7" height="6.7" fill="#fff" stroke="#444" stroke-width="0.9"/>
<line x1="200.2" y1="645.4" x2="206.2" y2="650.7" stroke="#000" stroke-width="2.7"/>
<polygon points="198.9,652.5 198.9,650.7 200.7,652.5" fill="#000"/>
<text x="210.2" y="652.5" font-size="10.4">+ Wt</text>
<line x1="190.9" y1="733.5" x2="190.9" y2="734.7" stroke="#000" stroke-width="1.25"/>
<line x1="187.15" y1="733.5" x2="194.65" y2="733.5" stroke="#000" stroke-width="1.25"/>
<rect x="185.6" y="735.3" width="10.6" height="3.5" fill="#fff" stroke="#000" stroke-width="1.2"/>
<line x1="209.25" y1="723.5" x2="209.25" y2="727.5" stroke="#000" stroke-width="1.25"/>
<line x1="205.5" y1="723.5" x2="213" y2="723.5" stroke="#000" stroke-width="1.25"/>
<rect x="203.6" y="728.1" width="11.3" height="10.7" fill="#fff" stroke="#000" stroke-width="1.2"/>
<line x1="225.1" y1="720.5" x2="225.1" y2="726" stroke="#000" stroke-width="1.25"/>
<line x1="221.35" y1="720.5" x2="228.85" y2="720.5" stroke="#000" stroke-width="1.25"/>
<rect x="219.6" y="726.6" width="11" height="12.2" fill="#000" stroke="#000" stroke-width="1.2"/>
<line x1="247.25" y1="693" x2="247.25" y2="703" stroke="#000" stroke-width="1.25"/>
<line x1="243.5" y1="693" x2="251" y2="693" stroke="#000" stroke-width="1.25"/>
<rect x="241.8" y="703.6" width="10.9" height="35.2" fill="#fff" stroke="#000" stroke-width="1.2"/>
<line x1="263.1" y1="687.2" x2="263.1" y2="700.5" stroke="#000" stroke-width="1.25"/>
<line x1="259.35" y1="687.2" x2="266.85" y2="687.2" stroke="#000" stroke-width="1.25"/>
<rect x="257.6" y="701.1" width="11" height="37.7" fill="#000" stroke="#000" stroke-width="1.2"/>
<line x1="279.35" y1="690" x2="279.35" y2="700" stroke="#000" stroke-width="1.25"/>
<line x1="275.6" y1="690" x2="283.1" y2="690" stroke="#000" stroke-width="1.25"/>
<clipPath id="c4"><rect x="273.2" y="700" width="12.3" height="38.8"/></clipPath>
<rect x="273.2" y="700" width="12.3" height="38.8" fill="#fff"/>
<path d="M273.2 680.3 L285.5 689.89 L285.5 693.69 L273.2 684.1ZM273.2 690 L285.5 699.59 L285.5 703.39 L273.2 693.8ZM273.2 699.7 L285.5 709.29 L285.5 713.09 L273.2 703.5ZM273.2 709.4 L285.5 718.99 L285.5 722.79 L273.2 713.2ZM273.2 719.1 L285.5 728.69 L285.5 732.49 L273.2 722.9ZM273.2 728.8 L285.5 738.39 L285.5 742.19 L273.2 732.6ZM273.2 738.5 L285.5 748.09 L285.5 751.89 L273.2 742.3Z" fill="#000" clip-path="url(#c4)"/>
<rect x="273.8" y="700.6" width="11.1" height="38.2" fill="none" stroke="#000" stroke-width="1.2"/>
<line x1="301" y1="663" x2="301" y2="672.2" stroke="#000" stroke-width="1.25"/>
<line x1="297.25" y1="663" x2="304.75" y2="663" stroke="#000" stroke-width="1.25"/>
<rect x="295.6" y="672.8" width="10.8" height="66" fill="#fff" stroke="#000" stroke-width="1.2"/>
<line x1="316.55" y1="664.2" x2="316.55" y2="673.5" stroke="#000" stroke-width="1.25"/>
<line x1="312.8" y1="664.2" x2="320.3" y2="664.2" stroke="#000" stroke-width="1.25"/>
<rect x="311.1" y="674.1" width="10.9" height="64.7" fill="#000" stroke="#000" stroke-width="1.2"/>
<line x1="202" y1="746.6" x2="232.5" y2="746.6" stroke="#111" stroke-width="1.2"/>
<text x="217.25" y="758" font-size="10.4" text-anchor="middle">30 µM</text>
<line x1="240" y1="746.6" x2="286" y2="746.6" stroke="#111" stroke-width="1.2"/>
<text x="264.5" y="758" font-size="10.4" text-anchor="middle">50 µM</text>
<line x1="293" y1="746.6" x2="323.7" y2="746.6" stroke="#111" stroke-width="1.2"/>
<text x="308.95" y="758" font-size="10.4" text-anchor="middle">70 µM</text>
<line x1="202.5" y1="765.2" x2="323.7" y2="765.2" stroke="#111" stroke-width="1.2"/>
<text x="262.5" y="775" font-size="10.4" text-anchor="middle">Lon</text>
<text x="194.4" y="743" font-size="10.4" text-anchor="end" transform="rotate(-90 194.4 743)">Cont</text>
<line x1="339.4" y1="627.5" x2="339.4" y2="739.3" stroke="#000" stroke-width="1.3"/>
<line x1="333.9" y1="628" x2="339.4" y2="628" stroke="#000" stroke-width="1.2"/>
<line x1="333.9" y1="672.2" x2="339.4" y2="672.2" stroke="#000" stroke-width="1.2"/>
<line x1="333.9" y1="716.7" x2="339.4" y2="716.7" stroke="#000" stroke-width="1.2"/>
<line x1="338.8" y1="738.8" x2="462" y2="738.8" stroke="#000" stroke-width="1.4"/>
<line x1="348.8" y1="733.7" x2="348.8" y2="735" stroke="#000" stroke-width="1.25"/>
<line x1="345.05" y1="733.7" x2="352.55" y2="733.7" stroke="#000" stroke-width="1.25"/>
<rect x="343.6" y="735.6" width="10.4" height="3.2" fill="#fff" stroke="#000" stroke-width="1.2"/>
<line x1="367.2" y1="646.7" x2="367.2" y2="657.5" stroke="#000" stroke-width="1.25"/>
<line x1="363.45" y1="646.7" x2="370.95" y2="646.7" stroke="#000" stroke-width="1.25"/>
<rect x="361.8" y="658.1" width="10.8" height="80.7" fill="#fff" stroke="#000" stroke-width="1.2"/>
<line x1="383.55" y1="665" x2="383.55" y2="681" stroke="#000" stroke-width="1.25"/>
<line x1="379.8" y1="665" x2="387.3" y2="665" stroke="#000" stroke-width="1.25"/>
<rect x="378.1" y="681.6" width="10.9" height="57.2" fill="#000" stroke="#000" stroke-width="1.2"/>
<line x1="400.25" y1="675.5" x2="400.25" y2="686.2" stroke="#000" stroke-width="1.25"/>
<line x1="396.5" y1="675.5" x2="404" y2="675.5" stroke="#000" stroke-width="1.25"/>
<clipPath id="c5"><rect x="394.2" y="686.2" width="12.1" height="52.6"/></clipPath>
<rect x="394.2" y="686.2" width="12.1" height="52.6" fill="#fff"/>
<path d="M394.2 666.5 L406.3 675.94 L406.3 679.74 L394.2 670.3ZM394.2 676.2 L406.3 685.64 L406.3 689.44 L394.2 680ZM394.2 685.9 L406.3 695.34 L406.3 699.14 L394.2 689.7ZM394.2 695.6 L406.3 705.04 L406.3 708.84 L394.2 699.4ZM394.2 705.3 L406.3 714.74 L406.3 718.54 L394.2 709.1ZM394.2 715 L406.3 724.44 L406.3 728.24 L394.2 718.8ZM394.2 724.7 L406.3 734.14 L406.3 737.94 L394.2 728.5ZM394.2 734.4 L406.3 743.84 L406.3 747.64 L394.2 738.2Z" fill="#000" clip-path="url(#c5)"/>
<rect x="394.8" y="686.8" width="10.9" height="52" fill="none" stroke="#000" stroke-width="1.2"/>
<line x1="420.25" y1="686.2" x2="420.25" y2="695.5" stroke="#000" stroke-width="1.25"/>
<line x1="416.5" y1="686.2" x2="424" y2="686.2" stroke="#000" stroke-width="1.25"/>
<rect x="414.8" y="696.1" width="10.9" height="42.7" fill="#fff" stroke="#000" stroke-width="1.2"/>
<line x1="436.55" y1="705.5" x2="436.55" y2="713" stroke="#000" stroke-width="1.25"/>
<line x1="432.8" y1="705.5" x2="440.3" y2="705.5" stroke="#000" stroke-width="1.25"/>
<rect x="431.1" y="713.6" width="10.9" height="25.2" fill="#000" stroke="#000" stroke-width="1.2"/>
<line x1="452.75" y1="702.5" x2="452.75" y2="715" stroke="#000" stroke-width="1.25"/>
<line x1="449" y1="702.5" x2="456.5" y2="702.5" stroke="#000" stroke-width="1.25"/>
<clipPath id="c6"><rect x="446.7" y="715" width="12.1" height="23.8"/></clipPath>
<rect x="446.7" y="715" width="12.1" height="23.8" fill="#fff"/>
<path d="M446.7 695.3 L458.8 704.74 L458.8 708.54 L446.7 699.1ZM446.7 705 L458.8 714.44 L458.8 718.24 L446.7 708.8ZM446.7 714.7 L458.8 724.14 L458.8 727.94 L446.7 718.5ZM446.7 724.4 L458.8 733.84 L458.8 737.64 L446.7 728.2ZM446.7 734.1 L458.8 743.54 L458.8 747.34 L446.7 737.9Z" fill="#000" clip-path="url(#c6)"/>
<rect x="447.3" y="715.6" width="10.9" height="23.2" fill="none" stroke="#000" stroke-width="1.2"/>
<line x1="360.5" y1="746.8" x2="405.8" y2="746.8" stroke="#111" stroke-width="1.1"/>
<text x="385.4" y="760.6" font-size="10.4" text-anchor="middle">Cpt</text>
<line x1="413.2" y1="746.8" x2="459.2" y2="746.8" stroke="#111" stroke-width="1.1"/>
<text x="437.3" y="760.6" font-size="10.4" text-anchor="middle">CDDP</text>
<text x="352.4" y="743" font-size="10.4" text-anchor="end" transform="rotate(-90 352.4 743)">Cont</text>
<text x="383.7" y="666" font-size="12" text-anchor="middle">*</text>
<text x="400.4" y="675.8" font-size="12" text-anchor="middle">*</text>
<text x="438.6" y="706.1" font-size="12" text-anchor="middle" letter-spacing="1.4">**</text>
<text x="453.2" y="702.1" font-size="12" text-anchor="middle" letter-spacing="1.4">**</text>
</g>
</svg>
</body>
</html>
